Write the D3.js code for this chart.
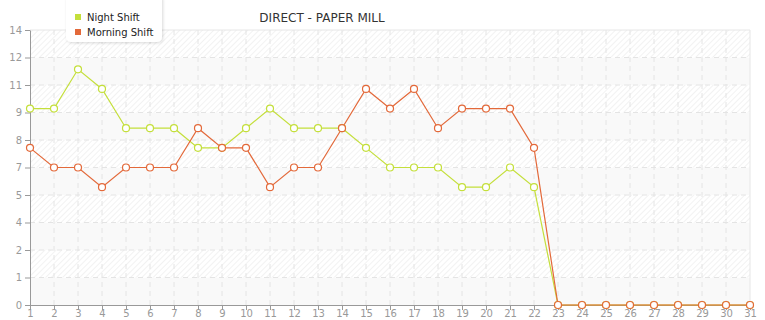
<!DOCTYPE html>
<html>
<head>
<meta charset="utf-8">
<script src="https://cdn.jsdelivr.net/npm/d3@7"></script>
<style>
  body { margin: 0; background: #fff; }
  text { font-family: "DejaVu Sans", Verdana, sans-serif; }
</style>
</head>
<body>
<div id="chart"></div>
<script>
const days = d3.range(1, 32);
const nightShift = [10, 10, 12, 11, 9, 9, 9, 8, 8, 9, 10, 9, 9, 9, 8, 7, 7, 7, 6, 6, 7, 6,
  0, 0, 0, 0, 0, 0, 0, 0, 0];
const morningShift = [8, 7, 7, 6, 7, 7, 7, 9, 8, 8, 6, 7, 7, 9, 11, 10, 11, 9, 10, 10, 10, 8,
  0, 0, 0, 0, 0, 0, 0, 0, 0];
const yTicks = [0, 1.4, 2.8, 4.2, 5.6, 7, 8.4, 9.8, 11.2, 12.6, 14];
const seriesNames = ["Night Shift", "Morning Shift"];
const seriesColors = ["#c4df3b", "#e3693a"];

const width = 765, height = 320;
const margin = { top: 30, right: 15, bottom: 15, left: 30 };

const svg = d3.select("#chart").append("svg")
  .attr("width", width)
  .attr("height", height);

const defs = svg.append("defs");
const pat = defs.append("pattern")
  .attr("id", "hatch")
  .attr("patternUnits", "userSpaceOnUse")
  .attr("width", 4).attr("height", 4)
  .attr("patternTransform", "rotate(45)");
pat.append("rect").attr("width", 4).attr("height", 4).attr("fill", "#fff");
pat.append("line").attr("x1", 0).attr("y1", 0).attr("x2", 0).attr("y2", 4)
  .attr("stroke", "#eeeeee").attr("stroke-width", 1.5);

const shadow = defs.append("filter").attr("id", "shadow")
  .attr("x", "-20%").attr("y", "-20%").attr("width", "140%").attr("height", "150%");
shadow.append("feDropShadow").attr("dx", 1).attr("dy", 1).attr("stdDeviation", 1.5)
  .attr("flood-color", "#000").attr("flood-opacity", 0.15);

const x = d3.scaleLinear()
  .domain([1, 31])
  .range([margin.left, width - margin.right]);

const y = d3.scaleLinear()
  .domain([0, 14])
  .range([height - margin.bottom, margin.top]);

// bands
const bands = d3.pairs(yTicks);
svg.append("g").selectAll("rect")
  .data(bands)
  .join("rect")
  .attr("x", x(1))
  .attr("width", x(31) - x(1))
  .attr("y", d => y(d[1]))
  .attr("height", d => y(d[0]) - y(d[1]))
  .attr("fill", (d, i) => i % 2 === 0 ? "#f9f9f9" : "url(#hatch)");

// grid
const grid = svg.append("g")
  .attr("stroke", "#e4e4e4")
  .attr("stroke-dasharray", "5,4");
grid.selectAll(".vg")
  .data(days.slice(1, -1))
  .join("line")
  .attr("x1", d => x(d)).attr("x2", d => x(d))
  .attr("y1", y(14)).attr("y2", y(0));
grid.selectAll(".hg")
  .data(yTicks.slice(1, -1))
  .join("line")
  .attr("class", "hg")
  .attr("x1", x(1)).attr("x2", x(31))
  .attr("y1", d => y(d)).attr("y2", d => y(d));

// frame
svg.append("line")
  .attr("x1", x(1)).attr("x2", x(31))
  .attr("y1", y(14)).attr("y2", y(14))
  .attr("stroke", "#e6e6e6");
svg.append("line")
  .attr("x1", x(31)).attr("x2", x(31))
  .attr("y1", y(14)).attr("y2", y(0))
  .attr("stroke", "#e6e6e6");

// axes
const yAxis = svg.append("g")
  .attr("transform", `translate(${x(1)},0)`)
  .call(d3.axisLeft(y).tickValues(yTicks).tickFormat(d => Math.floor(d + 1e-9)).tickSize(5).tickSizeOuter(0));
const xAxis = svg.append("g")
  .attr("transform", `translate(0,${y(0)})`)
  .call(d3.axisBottom(x).tickValues(days).tickFormat(d3.format("d")).tickSize(5).tickSizeOuter(0));

[xAxis, yAxis].forEach(a => {
  a.select(".domain").attr("stroke", "#999");
  a.selectAll(".tick line").attr("stroke", "#999");
  a.selectAll(".tick text")
    .attr("fill", "#999")
    .style("font-size", "10px");
});
yAxis.selectAll(".tick text").attr("x", -8);
xAxis.selectAll(".tick text").attr("y", 5);

// lines
const series = [nightShift, morningShift];
const line = d3.line()
  .x((d, i) => x(days[i]))
  .y(d => y(d));

series.forEach((vals, k) => {
  svg.append("path")
    .datum(vals)
    .attr("fill", "none")
    .attr("stroke", seriesColors[k])
    .attr("stroke-width", 1.2)
    .attr("d", line);
});
series.forEach((vals, k) => {
  svg.append("g").selectAll("circle")
    .data(vals)
    .join("circle")
    .attr("cx", (d, i) => x(days[i]))
    .attr("cy", d => y(d))
    .attr("r", 3.5)
    .attr("fill", "#fff")
    .attr("stroke", seriesColors[k])
    .attr("stroke-width", 1.2);
});

// title
svg.append("text")
  .attr("x", 322)
  .attr("y", 22)
  .attr("text-anchor", "middle")
  .attr("fill", "#333")
  .style("font-size", "12px")
  .text("DIRECT - PAPER MILL");

// legend
const legend = svg.append("g");
legend.append("rect")
  .attr("x", 66).attr("y", -6)
  .attr("width", 96).attr("height", 48)
  .attr("rx", 5)
  .attr("fill", "#fff")
  .attr("filter", "url(#shadow)");
seriesNames.forEach((name, k) => {
  legend.append("rect")
    .attr("x", 75).attr("y", 14 + k * 15)
    .attr("width", 6).attr("height", 6)
    .attr("fill", seriesColors[k]);
  legend.append("text")
    .attr("x", 87).attr("y", 21 + k * 15)
    .attr("fill", "#222")
    .style("font-size", "10px")
    .text(name);
});
</script>
</body>
</html>
